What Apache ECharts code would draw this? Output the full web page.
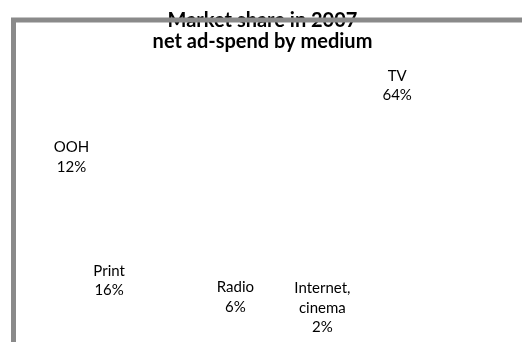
<!DOCTYPE html>
<html>
<head>
<meta charset="utf-8">
<script src="https://cdn.jsdelivr.net/npm/echarts@6/dist/echarts.min.js"></script>
<style>
  html, body { margin: 0; padding: 0; background: #fff; }
  #chart { width: 525px; height: 342px; }
</style>
</head>
<body>
<div id="chart"></div>
<script>
// market share 2007, net ad-spend by medium (%)
const media = ["TV", "Internet,\ncinema", "Radio", "Print", "OOH"];
const shares = [64, 2, 6, 16, 12];

// a few labels were nudged in the original, mimic that with their label line
const labelLines = {
    TV: { length: 36, length2: 33 },
    Print: { length: 56.4, length2: 27.7 },
    Radio: { length: 28.4, length2: 0 },
    "Internet,\ncinema": { length: 40, length2: 43 },
};

const chart = echarts.init(document.getElementById("chart"));

const data = media.map((name, i) => {
    const item = { name: name, value: shares[i] };
    if (labelLines[name]) {
        item.labelLine = labelLines[name];
    }
    return item;
});

const option = {
    animation: false,
    textStyle: { fontFamily: "Lato" },
    title: {
        text: "Market share in 2007\nnet ad-spend by medium",
        left: "center",
        top: 5,
        padding: [5, 10, 5, 5],
        textStyle: {
            fontFamily: "Lato",
            fontWeight: "bold",
            fontSize: 20,
            lineHeight: 21,
            color: "#000",
        },
    },
    graphic: [
        {
            type: "polyline",
            z: 100,
            shape: {
                points: [
                    [13.5, 360],
                    [13.5, 20],
                    [522, 20],
                ],
            },
            style: { stroke: "#8a8a8a", lineWidth: 5, fill: null },
        },
    ],
    series: [
        {
            type: "pie",
            center: [252, 169.5],
            radius: [0, 100],
            startAngle: 153.2,
            clockwise: true,
            avoidLabelOverlap: false,
            silent: true,
            itemStyle: { color: "rgba(0,0,0,0)", borderWidth: 0 },
            label: {
                show: true,
                position: "outside",
                formatter: "{b}\n{c}%",
                fontFamily: "Lato",
                fontSize: 15,
                lineHeight: 19.5,
                color: "#000",
                distanceToLabelLine: 5,
            },
            labelLine: { show: false, length: 38.4, length2: 37.6 },
            labelLayout: { align: "center" },
            data: data,
        },
    ],
};

chart.setOption(option);
</script>
</body>
</html>
